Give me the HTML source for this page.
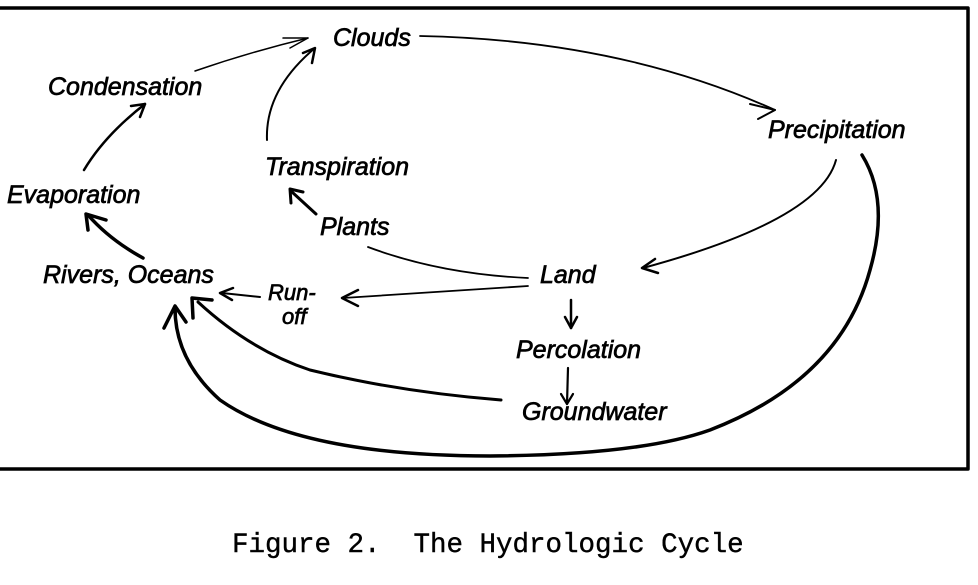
<!DOCTYPE html>
<html><head><meta charset="utf-8"><style>
html,body{margin:0;padding:0;background:#fff;}
svg{display:block;}
.t{font-family:"Liberation Sans",sans-serif;font-style:italic;font-size:25px;fill:#000;stroke:#000;stroke-width:0.7;}
</style></head><body>
<svg width="978" height="585" viewBox="0 0 978 585" xmlns="http://www.w3.org/2000/svg">
<g fill="none" stroke="#000" stroke-linecap="round" stroke-linejoin="round">
<path d="M0 8 L968 8 L968 469 L0 469" stroke-width="3.5"/>
<path d="M195 71 Q250 52 308 38" stroke-width="1.5"/>
<path d="M283 38 L308 38 L290 48" stroke-width="1.5"/>
<path d="M267 140 Q265 90 315 48" stroke-width="2"/>
<path d="M303 53 L315 48 L312 63" stroke-width="2.5"/>
<path d="M84 170 Q105 135 145 104" stroke-width="2.5"/>
<path d="M131 106 L145 104 L140 117" stroke-width="2.5"/>
<path d="M143 258 Q110 240 88 215" stroke-width="3.5"/>
<path d="M88 230 L86 214 L106 220" stroke-width="3.5"/>
<path d="M316 214 L292 192" stroke-width="3"/>
<path d="M291 203 L290 189 L303 192" stroke-width="3"/>
<path d="M420 36 Q620 40 775 110" stroke-width="1.8"/>
<path d="M750 104 L775 110 L758 119" stroke-width="2"/>
<path d="M836 160 Q820 220 643 268" stroke-width="2"/>
<path d="M655 259 L642 268 L658 273" stroke-width="2.5"/>
<path d="M528 278 Q440 274 368 247" stroke-width="1.8"/>
<path d="M528 286 Q440 292 343 298" stroke-width="1.8"/>
<path d="M358 290 L342 298 L358 306" stroke-width="2.5"/>
<path d="M260 297 L222 293" stroke-width="2"/>
<path d="M233 288 L220 293 L232 300" stroke-width="2.5"/>
<path d="M571 300 L571 328" stroke-width="2.5"/>
<path d="M565 317 L571 328 L577 317" stroke-width="2.5"/>
<path d="M568 368 L567 404" stroke-width="2.2"/>
<path d="M561 394 L567 404 L573 394" stroke-width="2.2"/>
<path d="M501 400 Q400 392 310 370 Q250 350 198 302" stroke-width="3"/>
<path d="M193 318 L192 298 L212 300" stroke-width="3.5"/>
<path d="M862 155 Q890 200 870 270 Q840 380 710 430 Q640 455 490 456 Q300 456 220 400 Q175 360 175 308" stroke-width="3.5"/>
<path d="M164 328 L175 306 L186 322" stroke-width="3.5"/>
</g>
<g class="t">
<text x="333" y="46">Clouds</text>
<text x="48" y="95">Condensation</text>
<text x="7" y="203">Evaporation</text>
<text x="265" y="175">Transpiration</text>
<text x="320" y="235">Plants</text>
<text x="768" y="138">Precipitation</text>
<text x="540" y="283">Land</text>
<text x="43" y="283">Rivers, Oceans</text>
<text x="268" y="300" font-size="22">Run-</text>
<text x="282" y="324" font-size="22">off</text>
<text x="516" y="358">Percolation</text>
<text x="522" y="420">Groundwater</text>
</g>
<text x="232" y="552" font-family="Liberation Mono, monospace" font-size="27.5" fill="#000" stroke="#000" stroke-width="0.4" xml:space="preserve">Figure 2.  The Hydrologic Cycle</text>
</svg>
</body></html>
